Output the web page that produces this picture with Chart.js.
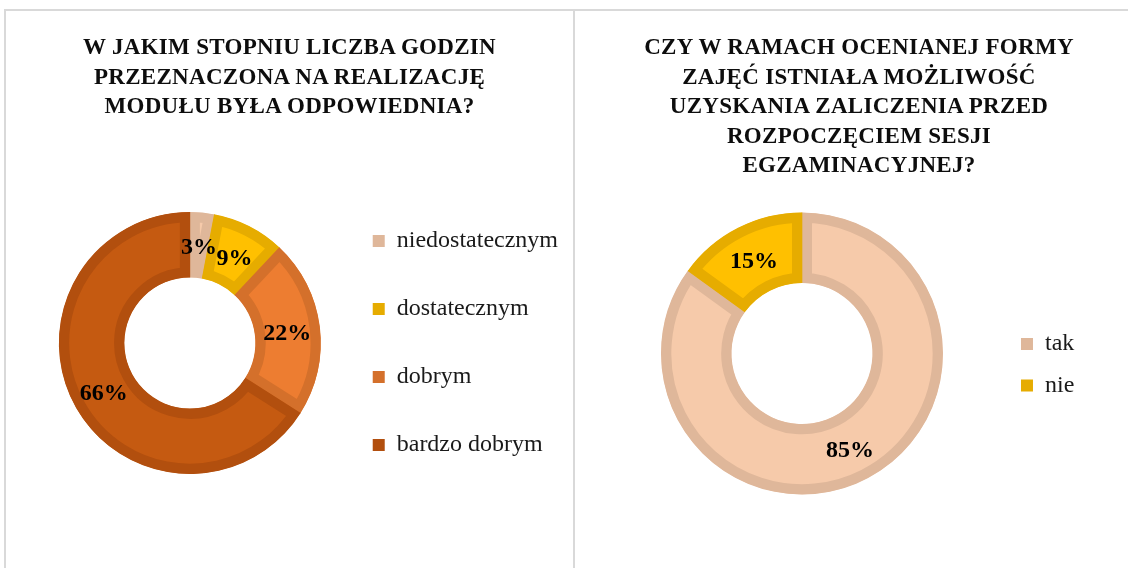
<!DOCTYPE html>
<html>
<head>
<meta charset="utf-8">
<script src="https://cdn.jsdelivr.net/npm/chart.js@4"></script>
<style>
html, body { margin: 0; padding: 0; overflow: hidden; background: #fff; width: 1128px; height: 568px; }
.panel { position: absolute; top: 9px; height: 557px; border-top: 2px solid #d9d9d9; }
#p1 { left: 4px; width: 567px; border-left: 2px solid #d9d9d9; border-right: 2px solid #d9d9d9; }
#p2 { left: 575px; width: 568px; }
.wrap { position: absolute; left: 0; top: 0; width: 100%; height: 100%; }
.title { position: absolute; left: 0; right: 0; top: 21px; text-align: center;
  font: bold 23px/29.5px "Liberation Serif", "Times New Roman", serif; letter-spacing: 0.3px; color: #0d0d0d; }
</style>
</head>
<body>
<div class="panel" id="p1">
  <div class="wrap"><canvas id="c1"></canvas></div>
  <div class="title">W JAKIM STOPNIU LICZBA GODZIN<br>PRZEZNACZONA NA REALIZACJĘ<br>MODUŁU BYŁA ODPOWIEDNIA?</div>
</div>
<div class="panel" id="p2">
  <div class="wrap"><canvas id="c2"></canvas></div>
  <div class="title">CZY W RAMACH OCENIANEJ FORMY<br>ZAJĘĆ ISTNIAŁA MOŻLIWOŚĆ<br>UZYSKANIA ZALICZENIA PRZED<br>ROZPOCZĘCIEM SESJI<br>EGZAMINACYJNEJ?</div>
</div>
<script>
// dane (w procentach)
const labels1 = ["niedostatecznym", "dostatecznym", "dobrym", "bardzo dobrym"];
const values1 = [3, 9, 22, 66];
const labels2 = ["tak", "nie"];
const values2 = [85, 15];

// kolory: wypełnienie i ciemniejsza obwódka
const fills1 = ["#F6CAAA", "#FFC000", "#ED7D31", "#C55A11"];
const borders1 = ["#DFB79A", "#E6AC00", "#D4702B", "#B24F0E"];
const fills2 = ["#F6CAAA", "#FFC000"];
const borders2 = ["#DFB79A", "#E6AC00"];

// etykiety procentowe na środku wycinków
const pctLabels = {
    id: "pctLabels",
    afterDatasetsDraw(chart) {
        const ctx = chart.ctx;
        const meta = chart.getDatasetMeta(0);
        const vals = chart.data.datasets[0].data;
        ctx.save();
        ctx.font = 'bold 24px "Liberation Serif"';
        ctx.fillStyle = "#000";
        ctx.textAlign = "center";
        ctx.textBaseline = "middle";
        meta.data.forEach((arc, i) => {
            const p = arc.getCenterPoint();
            ctx.fillText(vals[i] + "%", p.x, p.y + 3);
        });
        ctx.restore();
    }
};

function makeDonut(id, labels, values, fills, borders, o) {
    return new Chart(document.getElementById(id), {
        type: "doughnut",
        data: {
            labels: labels,
            datasets: [{
                data: values,
                backgroundColor: fills,
                borderColor: borders,
                borderWidth: o.bw,
                borderAlign: "inner",
                borderJoinStyle: "miter",
                hoverOffset: 0,
                clip: false
            }]
        },
        options: {
            responsive: true,
            maintainAspectRatio: false,
            animation: false,
            events: [],
            radius: o.radius,
            cutout: "50%",
            layout: { padding: o.padding },
            plugins: {
                tooltip: { enabled: false },
                legend: {
                    position: "right",
                    align: o.align,
                    fullSize: false,
                    labels: {
                        boxWidth: 12,
                        boxHeight: 12,
                        padding: o.gap,
                        color: "#1a1a1a",
                        font: { family: "Liberation Serif", size: 24 },
                        generateLabels: chart =>
                            Chart.overrides.doughnut.plugins.legend.labels.generateLabels(chart)
                                .map(l => Object.assign(l, { fillStyle: l.strokeStyle, lineWidth: 0 }))
                    }
                }
            }
        },
        plugins: [pctLabels]
    });
}

makeDonut("c1", labels1, values1, fills1, borders1, {
    bw: 10, radius: 131, align: "center", gap: 44,
    padding: { left: 45, right: 5, top: 117, bottom: 10 }
});
makeDonut("c2", labels2, values2, fills2, borders2, {
    bw: 10, radius: 141, align: "end", gap: 17.5,
    padding: { left: 25.5, right: 58.7, top: 281, bottom: 153 }
});
</script>
</body>
</html>
